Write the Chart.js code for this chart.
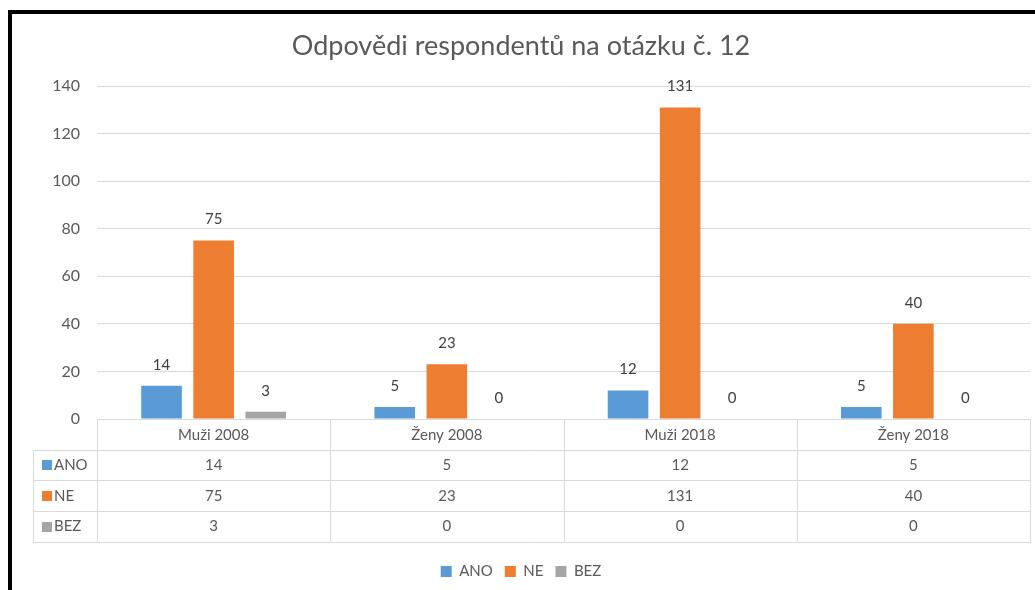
<!DOCTYPE html>
<html>
<head>
<meta charset="utf-8">
<script src="https://cdn.jsdelivr.net/npm/chart.js@4/dist/chart.umd.min.js"></script>
<style>
  html, body { margin: 0; padding: 0; background: #fff; overflow: hidden; }
  #wrap { position: relative; width: 1035px; height: 590px; }
  #frame { position: absolute; left: 8px; top: 10px; width: 1200px; height: 800px;
           border-left: 4px solid #000; border-top: 4px solid #000; pointer-events: none; }
</style>
</head>
<body>
<div id="wrap">
  <canvas id="c" width="1035" height="590"></canvas>
  <div id="frame"></div>
</div>
<script>
const categories = ['Muži 2008', 'Ženy 2008', 'Muži 2018', 'Ženy 2018'];
const seriesNames = ['ANO', 'NE', 'BEZ'];
const ano = [14, 5, 12, 5];
const ne = [75, 23, 131, 40];
const bez = [3, 0, 0, 0];
const yTicks = [0, 20, 40, 60, 80, 100, 120, 140];
const colors = ['#5B9BD5', '#ED7D31', '#A5A5A5'];

const FONT = 'Lato, "Open Sans", sans-serif';
const TXT = '#595959';
const LINE = '#d9d9d9';

const valueLabels = {
  id: 'valueLabels',
  afterDatasetsDraw(chart) {
    const ctx = chart.ctx;
    ctx.save();
    ctx.font = '15px ' + FONT;
    ctx.fillStyle = '#404040';
    ctx.textAlign = 'center';
    ctx.textBaseline = 'middle';
    chart.data.datasets.forEach((ds, di) => {
      const meta = chart.getDatasetMeta(di);
      meta.data.forEach((el, i) => {
        ctx.fillText(String(ds.data[i]), el.x, el.y - 21);
      });
    });
    ctx.restore();
  }
};

const dataTable = {
  id: 'dataTable',
  afterDraw(chart) {
    const ctx = chart.ctx;
    const ca = chart.chartArea;
    const xs = chart.scales.x;
    const top = ca.bottom;
    const headerH = 30.5;
    const rowH = 30.8;
    const leftCol = 33;
    const nRows = chart.data.datasets.length;
    const bottom = top + headerH + rowH * nRows;
    const n = chart.data.labels.length;
    const colW = (ca.right - ca.left) / n;
    ctx.save();
    ctx.strokeStyle = LINE;
    ctx.lineWidth = 1;
    ctx.beginPath();
    for (let r = 0; r <= nRows; r++) {
      const y = Math.round(top + headerH + r * rowH) + 0.5;
      ctx.moveTo(leftCol, y); ctx.lineTo(ca.right, y);
    }
    const vx0 = leftCol + 0.5;
    ctx.moveTo(vx0, Math.round(top + headerH)); ctx.lineTo(vx0, Math.round(bottom) + 1);
    for (let i = 0; i <= n; i++) {
      const x = Math.round(ca.left + i * colW) + 0.5;
      ctx.moveTo(x, top); ctx.lineTo(x, Math.round(bottom) + 1);
    }
    ctx.stroke();

    ctx.font = '15px ' + FONT;
    ctx.fillStyle = TXT;
    ctx.textAlign = 'center';
    ctx.textBaseline = 'middle';
    chart.data.labels.forEach((lab, i) => {
      ctx.fillText(lab, xs.getPixelForValue(i), top + headerH / 2 + 1);
    });
    chart.data.datasets.forEach((ds, r) => {
      const cy = top + headerH + rowH * r + rowH / 2;
      ctx.fillStyle = ds.backgroundColor;
      ctx.fillRect(42, Math.round(cy - 5), 10, 10);
      ctx.fillStyle = TXT;
      ctx.textAlign = 'left';
      ctx.fillText(ds.label, 54, cy);
      ctx.textAlign = 'center';
      ds.data.forEach((v, i) => {
        ctx.fillText(String(v), xs.getPixelForValue(i), cy);
      });
    });
    ctx.restore();
  }
};

new Chart(document.getElementById('c'), {
  type: 'bar',
  data: {
    labels: categories,
    datasets: [
      { label: seriesNames[0], data: ano, backgroundColor: colors[0] },
      { label: seriesNames[1], data: ne, backgroundColor: colors[1] },
      { label: seriesNames[2], data: bez, backgroundColor: colors[2] }
    ]
  },
  options: {
    responsive: false,
    animation: false,
    devicePixelRatio: 1,
    datasets: { bar: { categoryPercentage: 0.67, barPercentage: 0.78 } },
    layout: { padding: { left: 12, top: 14, right: 5, bottom: 1 } },
    plugins: {
      title: {
        display: true,
        text: 'Odpovědi respondentů na otázku č. 12',
        color: TXT,
        font: { family: FONT, size: 27, weight: 'normal' },
        padding: { top: 16, bottom: 23.6 }
      },
      legend: {
        position: 'bottom',
        labels: {
          color: TXT,
          font: { family: FONT, size: 15 },
          boxWidth: 11, boxHeight: 11, padding: 12
        }
      },
      tooltip: { enabled: false }
    },
    scales: {
      x: {
        ticks: { display: false },
        grid: { display: false },
        border: { display: false },
        afterFit(scale) { scale.height = 133; }
      },
      y: {
        min: 0, max: 140,
        afterBuildTicks(scale) { scale.ticks = yTicks.map(v => ({ value: v })); },
        ticks: { color: TXT, font: { family: FONT, size: 16 }, padding: 17 },
        grid: { color: LINE, drawTicks: false },
        border: { display: false },
        afterFit(scale) { scale.width = 85; }
      }
    }
  },
  plugins: [valueLabels, dataTable]
});
</script>
</body>
</html>
